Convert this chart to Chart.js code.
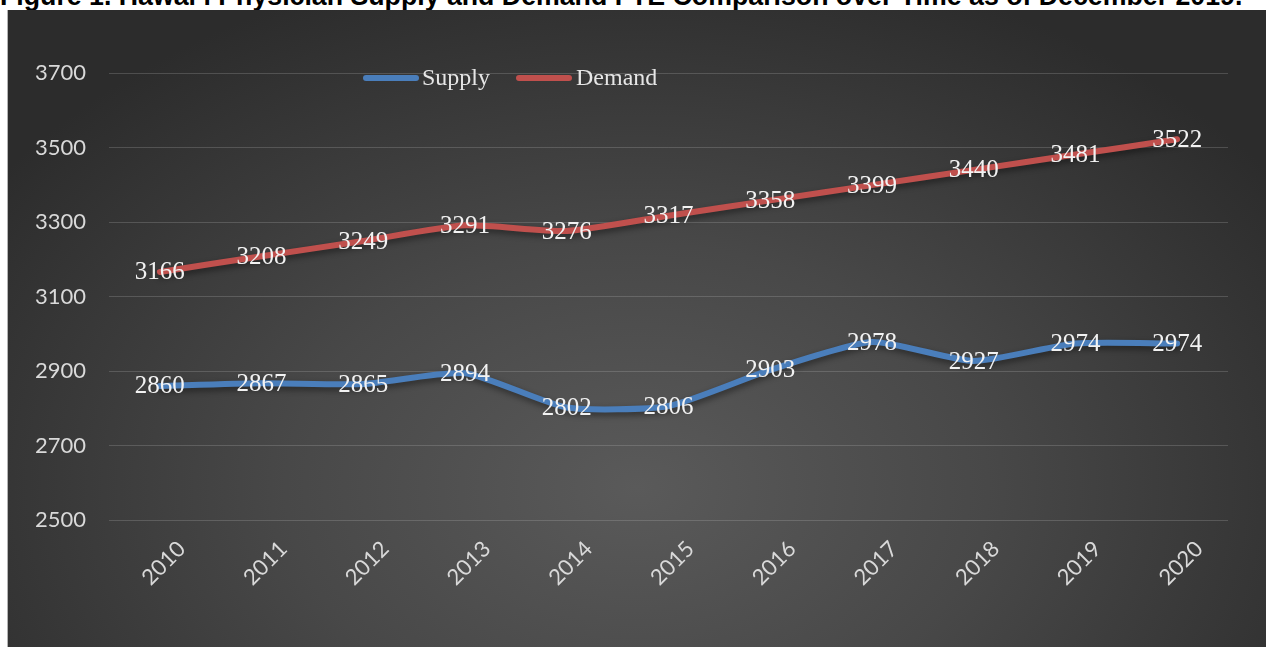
<!DOCTYPE html>
<html><head><meta charset="utf-8">
<script src="https://cdn.jsdelivr.net/npm/chart.js@4.4.1/dist/chart.umd.min.js"></script>
<style>
html,body{margin:0;padding:0;background:#fff;width:1266px;height:647px;overflow:hidden;}
#title{position:absolute;left:0;top:-14px;font-weight:bold;font-family:"Liberation Sans",Arial,sans-serif;font-size:22px;line-height:22px;white-space:nowrap;color:#000;}
#box{position:absolute;left:7px;top:10px;width:1259px;height:637px;border-left:1px solid #b4b4b4;box-sizing:border-box;
background:radial-gradient(ellipse 62% 85% at 50% 75%, #5a5a5a 0%, #484848 45%, #363636 80%, #2c2c2c 100%);}
#wrap{position:absolute;left:0;top:0;width:1258px;height:637px;}
</style></head>
<body>
<div id="title">Figure 1. Hawai‘i Physician Supply and Demand FTE Comparison over Time as of December 2019.</div>
<div id="box"><div id="wrap"><canvas id="c"></canvas></div></div>
<script>
const years = ['2010','2011','2012','2013','2014','2015','2016','2017','2018','2019','2020'];
const supply = [2860, 2867, 2865, 2894, 2802, 2806, 2903, 2978, 2927, 2974, 2974];
const demand = [3166, 3208, 3249, 3291, 3276, 3317, 3358, 3399, 3440, 3481, 3522];
const yTicks = [2500, 2700, 2900, 3100, 3300, 3500, 3700];

// fit title width
(function(){
  const t = document.getElementById('title');
  const cv = document.createElement('canvas').getContext('2d');
  cv.font = 'bold 22px "Liberation Sans", Arial, sans-serif';
  const w = cv.measureText(t.textContent).width;
  const fs = 22 * 1243 / w;
  t.style.fontSize = fs + 'px';
  t.style.lineHeight = fs + 'px';
  const baseline = -0.0585*fs + 0.905*fs;
  t.style.top = (5.5 - baseline) + 'px';
})();

const shadowPlugin = {
  id: 'lineShadow',
  beforeDatasetDraw(chart, args) {
    const ctx = chart.ctx; ctx.save();
    ctx.shadowColor = 'rgba(0,0,0,0.45)'; ctx.shadowBlur = 6; ctx.shadowOffsetX = 1; ctx.shadowOffsetY = 3;
  },
  afterDatasetDraw(chart) { chart.ctx.restore(); }
};

const labelPlugin = {
  id: 'valueLabels',
  afterDatasetsDraw(chart) {
    const ctx = chart.ctx;
    ctx.save();
    ctx.font = '25px "Liberation Serif", "Times New Roman", serif';
    ctx.fillStyle = '#f2f2f2';
    ctx.textAlign = 'center';
    ctx.textBaseline = 'middle';
    chart.data.datasets.forEach((ds, i) => {
      chart.getDatasetMeta(i).data.forEach((pt, j) => {
        ctx.fillText(String(ds.data[j]), pt.x, pt.y + 1);
      });
    });
    ctx.restore();
  }
};

const legendPlugin = {
  id: 'customLegend',
  afterDraw(chart) {
    const ctx = chart.ctx;
    const items = [{x: 355, tx: 414}, {x: 508, tx: 568}];
    ctx.save();
    ctx.font = '24px "Liberation Serif", "Times New Roman", serif';
    ctx.textBaseline = 'alphabetic';
    ctx.textAlign = 'left';
    chart.data.datasets.forEach((ds, i) => {
      const it = items[i];
      ctx.strokeStyle = ds.borderColor; ctx.lineWidth = 6; ctx.lineCap = 'round';
      ctx.beginPath(); ctx.moveTo(it.x + 3, 68); ctx.lineTo(it.x + 53, 68); ctx.stroke();
      ctx.fillStyle = '#e6e6e6';
      ctx.fillText(ds.label, it.tx, 74.5);
    });
    ctx.restore();
  }
};

new Chart(document.getElementById('c'), {
  type: 'line',
  data: {
    labels: years,
    datasets: [
      {label: 'Supply', data: supply, borderColor: '#4a7ebb', borderWidth: 6, pointRadius: 0, tension: 0.2, borderCapStyle: 'round', borderJoinStyle: 'round', fill: false},
      {label: 'Demand', data: demand, borderColor: '#c0504d', borderWidth: 6, pointRadius: 0, tension: 0.2, borderCapStyle: 'round', borderJoinStyle: 'round', fill: false}
    ]
  },
  options: {
    responsive: true, maintainAspectRatio: false, animation: false,
    layout: {padding: {left: 0, right: 38, top: 63, bottom: 0}},
    plugins: {legend: {display: false}, title: {display: false}, tooltip: {enabled: false}},
    scales: {
      x: {
        offset: true,
        grid: {display: false},
        border: {display: false},
        afterFit(s) { s.height = 127; },
        ticks: {color: '#d9d9d9', font: {family: 'Lato, "Open Sans", sans-serif', size: 22}, maxRotation: 45, minRotation: 45, padding: 8, labelOffset: 22}
      },
      y: {
        min: 2500, max: 3700,
        afterFit(s) { s.width = 101; },
        afterBuildTicks(s) { s.ticks = yTicks.map(v => ({value: v})); },
        grid: {color: 'rgba(200,200,200,0.22)', lineWidth: 1, drawTicks: false},
        border: {display: false},
        ticks: {color: '#d9d9d9', font: {family: 'Lato, "Open Sans", sans-serif', size: 22}, padding: 23, callback: v => String(v)}
      }
    }
  },
  plugins: [shadowPlugin, labelPlugin, legendPlugin]
});
</script>
</body></html>
